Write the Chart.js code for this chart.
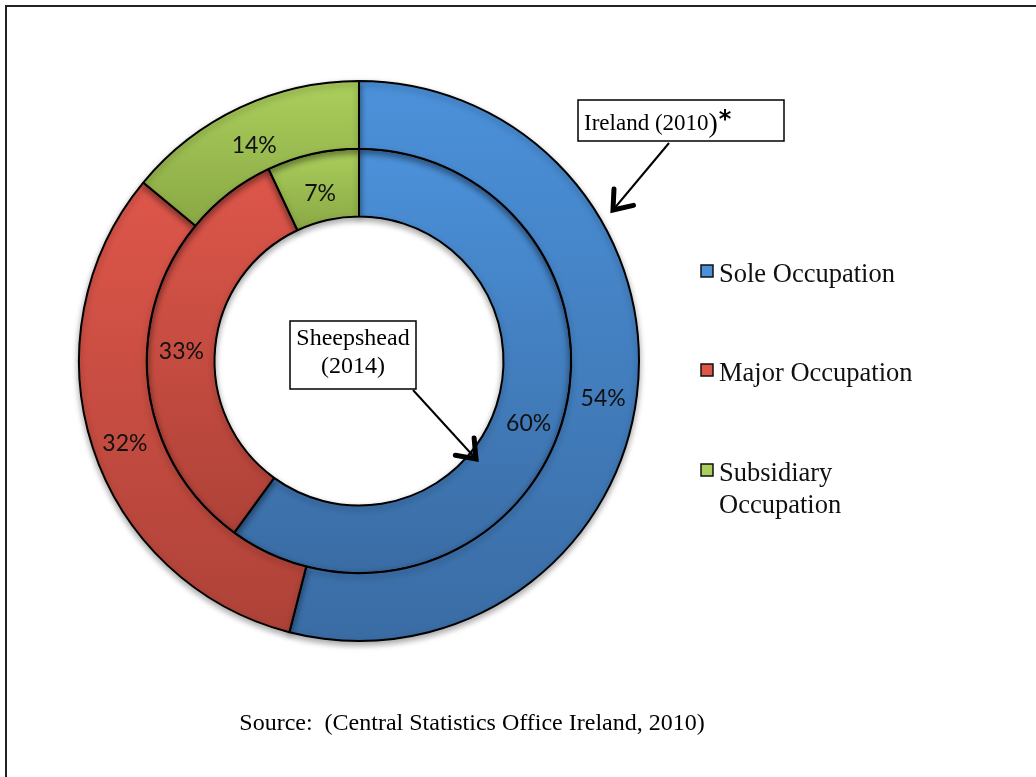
<!DOCTYPE html>
<html>
<head>
<meta charset="utf-8">
<script src="https://cdn.jsdelivr.net/npm/chart.js@4.4.1/dist/chart.umd.min.js"></script>
<style>
  html, body { margin: 0; padding: 0; background: #fff; }
</style>
</head>
<body>
<canvas id="occChart" width="1036" height="777"></canvas>
<script>
// occupation doughnut – Ireland 2010 (outer) vs Sheepshead 2014 (inner)

const categories = ["Sole Occupation", "Major Occupation", "Subsidiary Occupation"];
const irelandValues = [54, 32, 14];
const sheepsheadValues = [60, 33, 7];
const ringNames = ["Ireland (2010)", "Sheepshead (2014)"];
const sourceNote = "Source:  (Central Statistics Office Ireland, 2010)";

// top / bottom colours of the slice gradient
const topColors = ["#4b91da", "#de564a", "#abcf5c"];
const bottomColors = ["#3a6ca4", "#ae4238", "#8aa845"];

const CUTOUT = 0.516;
const SERIF = "'Liberation Serif', 'DejaVu Serif', serif";

// vertical gradient sized to each slice's own bounding box
function sliceFill(ctx) {
  const chart = ctx.chart;
  const area = chart.chartArea;
  const i = ctx.dataIndex;
  if (!area || ctx.type !== "data") return topColors[i];
  const data = chart.data.datasets[ctx.datasetIndex].data;
  const total = data.reduce((a, b) => a + b, 0);
  let before = 0;
  for (let k = 0; k < i; k++) before += data[k];
  const a0 = -Math.PI / 2 + (before / total) * Math.PI * 2;
  const a1 = a0 + (data[i] / total) * Math.PI * 2;
  const R = Math.min(area.right - area.left, area.bottom - area.top) / 2;
  const ring = (R - R * CUTOUT) / 2;
  const rOut = R - ring * ctx.datasetIndex;
  const rIn = rOut - ring;
  const cy = (area.top + area.bottom) / 2;
  let minY = Infinity, maxY = -Infinity;
  for (let s = 0; s <= 60; s++) {
    const a = a0 + (a1 - a0) * s / 60;
    for (const r of [rIn, rOut]) {
      const y = cy + r * Math.sin(a);
      minY = Math.min(minY, y);
      maxY = Math.max(maxY, y);
    }
  }
  const g = chart.ctx.createLinearGradient(0, minY, 0, maxY);
  g.addColorStop(0, topColors[i]);
  g.addColorStop(1, bottomColors[i]);
  return g;
}

function arrow(c, x1, y1, x2, y2) {
  c.save();
  c.strokeStyle = "#000";
  c.lineWidth = 2;
  c.beginPath();
  c.moveTo(x1, y1);
  c.lineTo(x2, y2);
  c.stroke();
  const ang = Math.atan2(y2 - y1, x2 - x1);
  const len = 21, spread = 0.65;
  c.lineWidth = 5;
  c.lineCap = "round";
  c.lineJoin = "miter";
  c.beginPath();
  c.moveTo(x2 - len * Math.cos(ang - spread), y2 - len * Math.sin(ang - spread));
  c.lineTo(x2, y2);
  c.lineTo(x2 - len * Math.cos(ang + spread), y2 - len * Math.sin(ang + spread));
  c.stroke();
  c.restore();
}

const shadowPlugin = {
  id: "ringShadow",
  beforeDatasetsDraw(chart) {
    const c = chart.ctx;
    c.save();
    c.shadowColor = "rgba(0,0,0,0.35)";
    c.shadowBlur = 6;
    c.shadowOffsetY = 3;
  },
  afterDatasetsDraw(chart) {
    chart.ctx.restore();
  }
};

const decorPlugin = {
  id: "decor",
  afterDraw(chart) {
    const c = chart.ctx;
    c.save();

    // percentage labels (Excel sits them a little below the centroid)
    c.fillStyle = "#111";
    c.font = "23px Lato, 'Open Sans', sans-serif";
    c.textAlign = "center";
    c.textBaseline = "middle";
    chart.data.datasets.forEach((ds, di) => {
      const meta = chart.getDatasetMeta(di);
      meta.data.forEach((arc, j) => {
        const p = arc.tooltipPosition();
        c.fillText(ds.data[j] + "%", p.x, p.y + 7);
      });
    });

    // legend
    const legendY = [282, 381, 481];
    categories.forEach((name, i) => {
      const y = legendY[i];
      c.fillStyle = topColors[i];
      c.fillRect(701, y - 17, 12, 12);
      c.strokeStyle = "#111";
      c.lineWidth = 1.5;
      c.strokeRect(701, y - 17, 12, 12);
      c.fillStyle = "#111";
      c.font = "26.5px " + SERIF;
      c.textAlign = "left";
      c.textBaseline = "alphabetic";
      const words = name.split(" ");
      if (i === 2) {
        c.fillText(words[0], 719, y);
        c.fillText(words[1], 719, y + 32);
      } else {
        c.fillText(name, 719, y);
      }
    });

    // callout: outer ring
    c.fillStyle = "#fff";
    c.fillRect(578, 100, 206, 41);
    c.strokeStyle = "#000";
    c.lineWidth = 1.5;
    c.strokeRect(578, 100, 206, 41);
    c.fillStyle = "#000";
    c.textAlign = "left";
    c.textBaseline = "alphabetic";
    c.font = "23px " + SERIF;
    const lbl = ringNames[0].slice(0, -1);
    c.fillText(lbl, 584, 130);
    let x = 584 + c.measureText(lbl).width;
    c.font = "28px " + SERIF;
    c.fillText(")", x, 132);
    x += c.measureText(")").width + 1;
    c.font = "bold 24px 'DejaVu Sans', sans-serif";
    c.fillText("*", x, 127);
    arrow(c, 669, 143, 613, 210);

    // callout: inner ring
    c.fillStyle = "#fff";
    c.fillRect(290, 321, 126, 68);
    c.strokeStyle = "#000";
    c.lineWidth = 1.5;
    c.strokeRect(290, 321, 126, 68);
    c.fillStyle = "#000";
    c.font = "24px " + SERIF;
    c.textAlign = "center";
    const inner = ringNames[1].split(" ");
    c.fillText(inner[0], 353, 345);
    c.fillText(inner[1], 353, 373);
    arrow(c, 413, 390, 476, 459);

    // source
    c.font = "24px " + SERIF;
    c.textAlign = "center";
    c.fillText(sourceNote, 472, 730);

    // page frame (top and left only)
    c.strokeStyle = "#222";
    c.lineWidth = 2;
    c.beginPath();
    c.moveTo(1036, 6);
    c.lineTo(6, 6);
    c.lineTo(6, 777);
    c.stroke();
    c.restore();
  }
};

new Chart(document.getElementById("occChart"), {
  type: "doughnut",
  data: {
    labels: categories,
    datasets: [
      { label: ringNames[0], data: irelandValues, backgroundColor: sliceFill,
        borderColor: "#000", borderWidth: 2 },
      { label: ringNames[1], data: sheepsheadValues, backgroundColor: sliceFill,
        borderColor: "#000", borderWidth: 2 }
    ]
  },
  options: {
    responsive: false,
    animation: false,
    events: [],
    cutout: (CUTOUT * 100) + "%",
    layout: { padding: { left: 78, top: 80, right: 396, bottom: 135 } },
    plugins: {
      legend: { display: false },
      tooltip: { enabled: false },
      title: { display: false }
    }
  },
  plugins: [shadowPlugin, decorPlugin]
});
</script>
</body>
</html>
